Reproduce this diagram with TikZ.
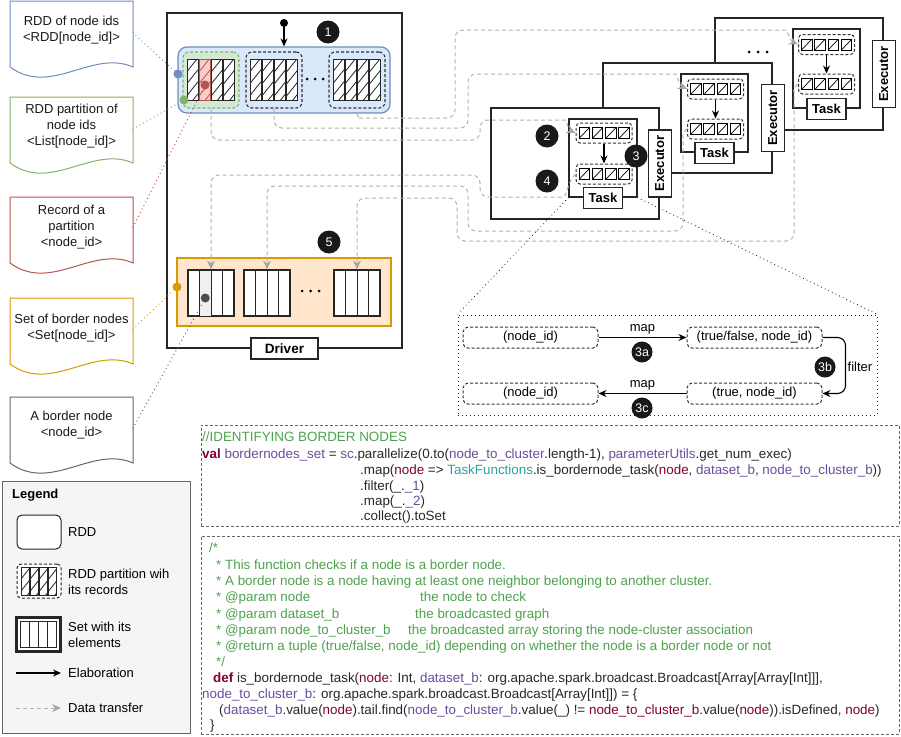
\documentclass[tikz,border=0pt]{standalone}
\usepackage{fontspec}
\setmainfont{Liberation Sans}
\usetikzlibrary{arrows.meta,calc}
\definecolor{blueS}{HTML}{6C8EBF}
\definecolor{blueF}{HTML}{DAE8FC}
\definecolor{greenS}{HTML}{82B366}
\definecolor{greenF}{HTML}{D5E8D4}
\definecolor{redS}{HTML}{B85450}
\definecolor{redF}{HTML}{F8CECC}
\definecolor{orangeS}{HTML}{D79B00}
\definecolor{orangeF}{HTML}{FFE6CC}
\definecolor{grayS}{HTML}{666666}
\definecolor{dotG}{HTML}{4D4D4D}
\definecolor{flowG}{HTML}{B3B3B3}
\definecolor{flowT}{HTML}{A6A6A6}
\definecolor{legF}{HTML}{F5F5F5}
\definecolor{cCom}{HTML}{4CA24C}
\definecolor{cPur}{HTML}{6A4C9C}
\definecolor{cRed}{HTML}{7F0037}
\definecolor{cTeal}{HTML}{2E9E9E}
\definecolor{cTxt}{HTML}{262626}

\newcommand\hatchrec[6]{%
  \fill[#5] (#1,#2) rectangle ++(#3,#4);
  \begin{scope}
    \clip (#1,#2) rectangle ++(#3,#4);
    \foreach \k in {0,...,6}{\draw[line width=0.8pt,#6] (#1,{#2+\k*12}) -- ++(#3,{-1.25*#3});}
  \end{scope}
  \draw[line width=1pt,#6] (#1,#2) rectangle ++(#3,#4);
}
\newcommand\taskpart[3]{%
  \node[tpart] (#1) at (#2,#3) {};
  \foreach \i in {0,1,2,3}{%
    \draw[line width=0.9pt] ({#2-25+\i*13.3},{#3-5.5}) rectangle ++(10.5,11);
    \draw[line width=0.7pt] ({#2-25+\i*13.3},{#3+5.5}) -- ++(10.5,-11);}
}
\newcommand\setgrp[3]{%
  \node[draw=black!85, line width=1.1pt, fill=white, inner sep=0pt, minimum width=46pt, minimum height=46pt] (#1) at ({#2+23},{#3+23}) {};
}
\newcommand\setlines[2]{%
  \foreach \i in {1,2,3}{\draw[line width=1pt, black!85] ({#1+\i*11.5},#2) -- ++(0,46);}
}
\newcommand\docshape[2]{%
  \draw[#2, line width=1pt, fill=white] (10,#1) -- (133,#1) -- (133,{#1+66}) .. controls (92,{#1+48}) and (51,{#1+96}) .. (10,{#1+66}) -- cycle;
}
\newcommand\kw[1]{\textcolor{cRed}{\textbf{#1}}}
\newcommand\pv[1]{\textcolor{cPur}{#1}}
\newcommand\rv[1]{\textcolor{cRed}{#1}}
\newcommand\tv[1]{\textcolor{cTeal}{#1}}
\newcommand\cm[1]{\textcolor{cCom}{#1}}

\begin{document}
\fontsize{13}{16}\selectfont
\begin{tikzpicture}[x=1pt,y=-1pt,
  ebox/.style={draw=black!85, fill=white, line width=1.2pt, inner sep=0pt},
  rpart/.style={dash pattern=on 3pt off 2pt, line width=1.1pt, rounded corners=6pt, inner sep=0pt, minimum width=56pt, minimum height=56pt},
  tpart/.style={draw=black!80, dash pattern=on 3pt off 2pt, line width=1pt, rounded corners=4pt, inner sep=0pt, minimum width=56pt, minimum height=20pt},
  num/.style={circle, fill=black!90, text=white, minimum size=23pt, inner sep=0pt, font=\fontsize{12.5}{13}\selectfont},
  snum/.style={num, minimum size=21pt},
  flow/.style={draw=flowG, line width=1pt, dash pattern=on 4pt off 3pt, rounded corners=8pt, -{Stealth[length=9pt,width=8pt,color=flowT]}},
  elab/.style={draw=black, line width=1.1pt, -{Stealth[length=8pt,width=7pt]}},
  dotc/.style={line width=1.4pt, dash pattern=on 0.01pt off 4pt, line cap=round},
  dotn/.style={circle, inner sep=0pt, minimum size=9pt},
  code/.style={inner sep=0pt, anchor=base west, font=\fontsize{13.4}{16}\selectfont, text=cTxt},
  mnode/.style={draw=black!80, dash pattern=on 3pt off 2pt, line width=1pt, rounded corners=5pt, minimum width=135pt, minimum height=21pt, inner sep=0pt},
  doctext/.style={align=center, inner sep=0pt, text=black!90},
  blackdot/.style={circle, fill=black, inner sep=0pt, minimum size=3pt}
]
\useasboundingbox (0,0) rectangle (901,736);

% ---------------- documents on the left
\docshape{1}{blueS}
\node[doctext] (docA) at (71.5,30) {RDD of node ids\\<RDD[node\_id]>};
\docshape{97}{greenS}
\node[doctext] (docB) at (71.5,126) {RDD partition of\\node ids\\<List[node\_id]>};
\docshape{197}{redS}
\node[doctext] (docC) at (71.5,227) {Record of a\\partition\\<node\_id>};
\docshape{298}{orangeS}
\node[doctext] (docD) at (71.5,328) {Set of border nodes\\<Set[node\_id]>};
\docshape{397}{grayS}
\node[doctext] (docE) at (71.5,425) {A border node\\<node\_id>};
\coordinate (aA) at (133,33);
\coordinate (aB) at (133,129);
\coordinate (aC) at (133,227);
\coordinate (aD) at (133,329);
\coordinate (aE) at (133,428);

% ---------------- legend
\node[draw=grayS, fill=legF, line width=0.8pt, inner sep=0pt, minimum width=188pt, minimum height=252pt] (legend) at (96,607) {};
\node[anchor=base west, inner sep=0pt, font=\bfseries] (legt) at (12,498.5) {Legend};
\node[draw=black!85, fill=white, rounded corners=5pt, line width=1pt, inner sep=0pt, minimum width=44pt, minimum height=34pt] (lgR) at (39,532) {};
\node[anchor=west, inner sep=0pt] (lgRt) at (68,532) {RDD};
\node[draw=black!85, fill=white, dash pattern=on 3pt off 2pt, rounded corners=4pt, line width=1pt, inner sep=0pt, minimum width=44pt, minimum height=34pt] (lgP) at (39,581) {};
\foreach \i in {0,1,2,3}{\hatchrec{21+\i*9.2}{567}{8.3}{28}{white}{black!85}}
\node[anchor=west, align=left, inner sep=0pt] (lgPt) at (68,582) {RDD partition wih\\its records};
\node[draw=black!85, fill=white, line width=2.2pt, inner sep=0pt, minimum width=44pt, minimum height=34pt] (lgS) at (38.5,634.5) {};
\draw[line width=1pt, black!85] (20.5,621.5) rectangle (56.5,647.5);
\foreach \i in {1,2,3}{\draw[line width=1pt, black!85] ({20.5+\i*9},621.5) -- ++(0,26);}
\node[anchor=west, align=left, inner sep=0pt] (lgSt) at (68,635) {Set with its\\elements};
\coordinate (lgE1) at (16,673);
\coordinate (lgE2) at (61,673);
\draw[elab] (lgE1) -- (lgE2);
\node[anchor=west, inner sep=0pt] (lgEt) at (68,673) {Elaboration};
\coordinate (lgD1) at (16,708);
\coordinate (lgD2) at (61,708);
\draw[flow] (lgD1) -- (lgD2);
\node[anchor=west, inner sep=0pt] (lgDt) at (68,708) {Data transfer};

% ---------------- code boxes
\node[draw=black!60, dash pattern=on 3pt off 2pt, line width=0.8pt, inner sep=0pt, minimum width=698pt, minimum height=101pt] (code1) at (550,475.5) {};
\node[code] (c1l1) at (202,441.5) {\cm{//IDENTIFYING BORDER NODES}};
\node[code] (c1l2) at (202,458.5) {\kw{val} \pv{bordernodes\_set} = \pv{sc}.parallelize(0.to(\pv{node\_to\_cluster}.length-1), \pv{parameterUtils}.get\_num\_exec)};
\node[code] (c1l3) at (360,474.5) {.map(\rv{node} => \tv{TaskFunctions}.is\_bordernode\_task(\rv{node}, \pv{dataset\_b}, \pv{node\_to\_cluster\_b}))};
\node[code] (c1l4) at (360,490.5) {.filter(\_.\pv{\_1})};
\node[code] (c1l5) at (360,505.5) {.map(\_.\pv{\_2})};
\node[code] (c1l6) at (360,520.5) {.collect().toSet};

\node[draw=black!60, dash pattern=on 3pt off 2pt, line width=0.8pt, inner sep=0pt, minimum width=698pt, minimum height=198pt] (code2) at (550,635) {};
\node[code] (c2l1) at (209,552.5) {\cm{/*}};
\node[code] (c2l2) at (216,569.5) {\cm{* This function checks if a node is a border node.}};
\node[code] (c2l3) at (216,585.5) {\cm{* A border node is a node having at least one neighbor belonging to another cluster.}};
\node[code] (c2l4) at (216,601.5) {\cm{* @param node}};
\node[code] (c2l4b) at (420,601.5) {\cm{the node to check}};
\node[code] (c2l5) at (216,618.5) {\cm{* @param dataset\_b}};
\node[code] (c2l5b) at (415,618.5) {\cm{the broadcasted graph}};
\node[code] (c2l6) at (216,634.5) {\cm{* @param node\_to\_cluster\_b}};
\node[code] (c2l6b) at (408,634.5) {\cm{the broadcasted array storing the node-cluster association}};
\node[code] (c2l7) at (216,650.5) {\cm{* @return a tuple (true/false, node\_id) depending on whether the node is a border node or not}};
\node[code] (c2l8) at (216,666.5) {\cm{*/}};
\node[code] (c2l9) at (213,682.5) {\kw{def} is\_bordernode\_task(\rv{node}: Int, \pv{dataset\_b}: org.apache.spark.broadcast.Broadcast[Array[Array[Int]]],};
\node[code] (c2l10) at (202,698.5) {\pv{node\_to\_cluster\_b}: org.apache.spark.broadcast.Broadcast[Array[Int]]) = \{};
\node[code] (c2l11) at (219,714.5) {(\pv{dataset\_b}.value(\rv{node}).tail.find(\pv{node\_to\_cluster\_b}.value(\_) != \rv{node\_to\_cluster\_b}.value(\rv{node})).isDefined, \rv{node})};
\node[code] (c2l12) at (210,729.5) {\}};

% ---------------- driver
\node[ebox, minimum width=235pt, minimum height=335pt] (driver) at (284.5,180.5) {};
\node[ebox, minimum width=67pt, minimum height=21pt, font=\bfseries\fontsize{13.5}{16}\selectfont] (drvlab) at (284.5,348.5) {Driver};

\node[draw=blueS, fill=blueF, line width=1.2pt, rounded corners=9pt, inner sep=0pt, minimum width=212pt, minimum height=66pt] (rdd) at (284,80) {};
\node[rpart, draw=greenS, fill=greenF] (p1) at (211,80) {};
\node[rpart, draw=black!80] (p2) at (274,80) {};
\node[rpart, draw=black!80] (p3) at (357,80) {};
\foreach \i in {0,2,3}{\hatchrec{187+\i*12.3}{59.5}{11}{41}{white}{black!85}}
\hatchrec{199.3}{59.5}{11}{41}{redF}{redS}
\foreach \i in {0,1,2,3}{\hatchrec{250+\i*12.3}{59.5}{11}{41}{white}{black!85}}
\foreach \i in {0,1,2,3}{\hatchrec{333+\i*12.3}{59.5}{11}{41}{white}{black!85}}
\node[blackdot] (el1) at (307,79) {};
\node[blackdot] (el2) at (315,79) {};
\node[blackdot] (el3) at (323,79) {};
\node[circle, fill=black, inner sep=0pt, minimum size=8pt] (src) at (284,23) {};
\draw[elab] (src) -- (rdd.north);
\node[dotn, fill=blueS] (bdot) at (178,74) {};
\node[dotn, fill=greenS] (gdot) at (184,100) {};
\node[dotn, fill=redS] (rdot) at (205,85) {};

\node[draw=orangeS, fill=orangeF, line width=1.6pt, inner sep=0pt, minimum width=214pt, minimum height=68pt] (set) at (284,292) {};
\setgrp{s1}{188}{270}
\fill[black!6] (199.5,270.5) rectangle (211,315.5);
\setlines{188}{270}
\setgrp{s2}{244}{270}
\setlines{244}{270}
\setgrp{s3}{334}{270}
\setlines{334}{270}
\node[blackdot] (sd1) at (302,291) {};
\node[blackdot] (sd2) at (310.5,291) {};
\node[blackdot] (sd3) at (319,291) {};
\node[dotn, fill=orangeS] (odot) at (177,287) {};
\node[dotn, fill=dotG] (kdot) at (205.25,298) {};

% ---------------- executors
\node[ebox, minimum width=168pt, minimum height=112pt] (ex3) at (799,74) {};
\node[ebox, minimum width=67pt, minimum height=79pt] (t3) at (826.5,68.5) {};
\taskpart{i3}{826.5}{44.5}
\taskpart{o3}{826.5}{84}
\draw[elab] (i3.south) -- (o3.north);
\node[ebox, minimum width=39pt, minimum height=21pt, font=\bfseries] (tl3) at (t3.south) {Task};
\node[ebox, rotate=90, minimum width=67pt, minimum height=23pt, font=\bfseries] (exl3) at (ex3.east) {Executor};

\node[ebox, minimum width=169pt, minimum height=110pt] (ex2) at (687.5,118) {};
\node[ebox, minimum width=67pt, minimum height=78pt] (t2) at (714.5,113) {};
\taskpart{i2}{715.5}{89}
\taskpart{o2}{715.5}{129}
\draw[elab] (i2.south) -- (o2.north);
\node[ebox, minimum width=39pt, minimum height=21pt, font=\bfseries] (tl2) at (t2.south) {Task};
\node[ebox, rotate=90, minimum width=67pt, minimum height=23pt, font=\bfseries] (exl2) at (ex2.east) {Executor};

\node[ebox, minimum width=168pt, minimum height=111pt] (ex1) at (575,163.5) {};
\node[ebox, minimum width=68pt, minimum height=78pt] (t1) at (603,158) {};
\taskpart{i1}{604}{133}
\taskpart{o1}{604}{174}
\draw[elab] (i1.south) -- (o1.north);
\node[ebox, minimum width=39pt, minimum height=21pt, font=\bfseries] (tl1) at (t1.south) {Task};
\node[ebox, rotate=90, minimum width=67pt, minimum height=23pt, font=\bfseries] (exl1) at (ex1.east) {Executor};

\node[blackdot] (xd1) at (749,52) {};
\node[blackdot] (xd2) at (758,52) {};
\node[blackdot] (xd3) at (767,52) {};

% ---------------- data transfers
\draw[flow] (p1.south) |- (480,140) -- (480,120) -- (558,120) to[out=0,in=155] (i1.west);
\draw[flow] (p2.south) |- (468,128) -- (468,74) -- (668,74) to[out=0,in=155] (i2.west);
\draw[flow] (p3.south |- rdd.south) to[out=-90,in=180] (367,118) -- (455,118) -- (455,30) -- (778,30) to[out=0,in=155] (i3.west);
\draw[flow] (o1.west) to[out=225,in=0] (555,197) -- (480,197) -- (480,175) -| (s1.north);
\draw[flow] (o2.west) to[out=210,in=90] (683,145) -- (683,231) -- (468,231) -- (468,186) -| (s2.north);
\draw[flow] (o3.west) to[out=210,in=90] (794,100) -- (794,241) -- (457,241) -- (457,198) -| (s3.north);

% ---------------- numbered circles
\node[num] (n1) at (328,32) {1};
\node[num] (n2) at (547,136) {2};
\node[num] (n3) at (636,156) {3};
\node[num] (n4) at (547,181) {4};
\node[num] (n5) at (329,242) {5};

% ---------------- dotted links
\draw[dotc, blueS] (aA) -- (bdot);
\draw[dotc, greenS] (aB) -- (gdot);
\draw[dotc, redS] (aC) -- (rdot);
\draw[dotc, orangeS] (aD) -- (odot);
\draw[dotc, grayS] (aE) -- (kdot);

% ---------------- map / filter detail
\node[draw=black!85, dash pattern=on 1pt off 3pt, line width=1pt, inner sep=0pt, minimum width=419pt, minimum height=100pt] (mbox) at (667.5,365) {};
\draw[dotc, black!85, line width=1.2pt] (t1.south west) -- (mbox.north west);
\draw[dotc, black!85, line width=1.2pt] (t1.south east) -- (mbox.north east);
\node[mnode] (m1) at (530.5,337.5) {(node\_id)};
\node[mnode] (m2) at (754.5,337.5) {(true/false, node\_id)};
\node[mnode] (m3) at (754.5,393.5) {(true, node\_id)};
\node[mnode] (m4) at (530.5,393.5) {(node\_id)};
\draw[elab] (m1) -- (m2);
\draw[elab, rounded corners=8pt] (m2.east) -- ++(23,0) |- (m3.east);
\draw[elab] (m3) -- (m4);
\node[inner sep=0pt] (mapa) at (642.5,329) {map};
\node[inner sep=0pt] (mapc) at (642.5,385) {map};
\node[inner sep=0pt] (filt) at (860,367) {filter};
\node[snum] (n3a) at (642,352) {3a};
\node[snum] (n3b) at (825,367) {3b};
\node[snum] (n3c) at (642,408) {3c};
\end{tikzpicture}
\end{document}
